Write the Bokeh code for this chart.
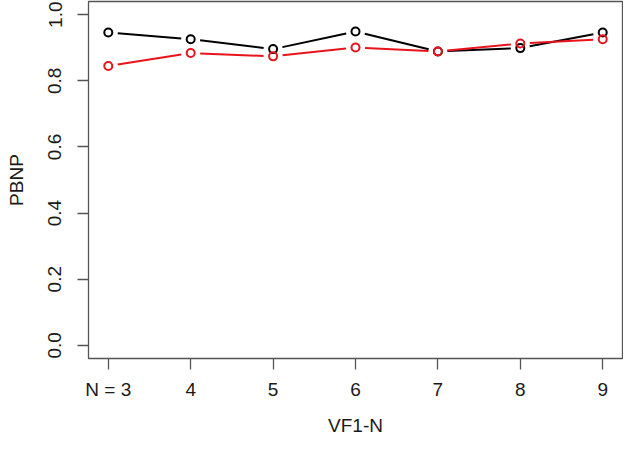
import numpy as np
from bokeh.plotting import figure
from bokeh.models import Range1d, FixedTicker
from bokeh.embed import file_html
from bokeh.resources import INLINE

# ---- data ----
n_values = [3, 4, 5, 6, 7, 8, 9]
series_black = [0.946, 0.926, 0.896, 0.949, 0.889, 0.899, 0.946]
series_red = [0.845, 0.884, 0.874, 0.901, 0.889, 0.913, 0.926]
x_tick_labels = ["N = 3", "4", "5", "6", "7", "8", "9"]
y_ticks = [0.0, 0.2, 0.4, 0.6, 0.8, 1.0]
y_tick_labels = ["0.0", "0.2", "0.4", "0.6", "0.8", "1.0"]

W, H = 623, 438
BL, BR, BT, BB = 88, 1, 1, 78
x_lo, x_hi = 2.76, 9.24
y_lo, y_hi = -0.04, 1.04

FONT = "Liberation Sans"
AX = "#555555"
TXT = "#1a1a1a"

p = figure(width=W, height=H, output_backend="svg", toolbar_location=None,
           x_range=Range1d(x_lo, x_hi), y_range=Range1d(y_lo, y_hi),
           min_border_left=BL, min_border_right=BR, min_border_top=BT,
           min_border_bottom=BB)
p.xgrid.visible = False
p.ygrid.visible = False
p.outline_line_color = AX
p.outline_line_width = 1.3
p.background_fill_color = "white"
p.border_fill_color = "white"

for ax in (p.xaxis[0], p.yaxis[0]):
    ax.axis_line_color = AX
    ax.major_tick_line_color = AX
    ax.major_tick_line_width = 1.3
    ax.minor_tick_line_color = None
    ax.major_tick_in = 0
    ax.major_tick_out = 11
    ax.major_label_text_font = FONT
    ax.major_label_text_font_size = "19px"
    ax.major_label_text_color = TXT
    ax.axis_label_text_font = FONT
    ax.axis_label_text_font_size = "19px"
    ax.axis_label_text_font_style = "normal"
    ax.axis_label_text_color = TXT

p.xaxis.ticker = FixedTicker(ticks=n_values)
p.xaxis.major_label_overrides = {v: l for v, l in zip(n_values, x_tick_labels)}
p.xaxis.major_label_standoff = 9
p.xaxis.axis_label = "VF1-N"
p.xaxis.axis_label_standoff = 12

p.yaxis.ticker = FixedTicker(ticks=y_ticks)
p.yaxis.major_label_overrides = {v: l for v, l in zip(y_ticks, y_tick_labels)}
p.yaxis.major_label_orientation = "vertical"
p.yaxis.major_label_standoff = 16
p.yaxis.axis_label = "PBNP"
p.yaxis.axis_label_standoff = 19

# R type="b": segments with gaps around points
fw = W - BL - BR
fh = H - BT - BB
sx = fw / (x_hi - x_lo)
sy = fh / (y_hi - y_lo)
GAP = 9.5


def gapped(xs, ys):
    xs = np.asarray(xs, float)
    ys = np.asarray(ys, float)
    dx = (xs[1:] - xs[:-1]) * sx
    dy = (ys[1:] - ys[:-1]) * sy
    d = np.hypot(dx, dy)
    ux, uy = dx / d, dy / d
    x0 = xs[:-1] + ux * GAP / sx
    y0 = ys[:-1] + uy * GAP / sy
    x1 = xs[1:] - ux * GAP / sx
    y1 = ys[1:] - uy * GAP / sy
    return x0, y0, x1, y1


for ys, col in ((series_black, "#000000"), (series_red, "#e8141c")):
    x0, y0, x1, y1 = gapped(n_values, ys)
    p.segment(x0=x0, y0=y0, x1=x1, y1=y1, line_color=col, line_width=2)
    p.scatter(x=n_values, y=ys, marker="circle", size=8, line_width=2,
              line_color=col, fill_color=None)

open("out.html", "w").write(file_html(p, INLINE))
